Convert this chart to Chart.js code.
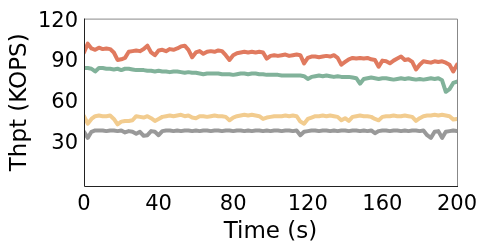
<!DOCTYPE html>
<html>
<head>
<meta charset="utf-8">
<script src="https://cdn.jsdelivr.net/npm/chart.js@4"></script>
<style>
  html, body { margin: 0; padding: 0; background: #fff; }
  #wrap { width: 488px; height: 250px; }
</style>
</head>
<body>
<div id="wrap"><canvas id="thpt"></canvas></div>
<script>
    /* --------------- Data (sampled every 2 s) --------------------- */
    const times = Array.from({ length: 101 }, (_, i) => i * 2);

    const redSeries = [
      97, 103.5, 100, 99, 100.5, 99.5, 100, 99.5, 97, 91.5,
      92, 93, 97.5, 98, 98.5, 98, 99.5, 102, 97, 95,
      98.5, 99, 98, 99.5, 99, 100, 101.5, 102, 99, 93.5,
      97, 98, 96, 97.5, 98, 97.5, 98.5, 98, 95, 91.5,
      95, 96.5, 97, 97.5, 97, 97.5, 97, 97.5, 97, 92.5,
      94.5, 95, 94.5, 95, 95.5, 94.5, 95, 95.5, 95, 89,
      93, 94, 94, 93.5, 94, 94.5, 94, 95, 93, 88,
      90, 92, 93, 92.5, 93, 92.5, 93, 92, 91.5, 86.5,
      91, 90.5, 89, 91, 92.5, 94, 91.5, 92, 90, 84.5,
      88, 90.5, 90, 89.5, 90.5, 90, 90.5, 89.5, 88, 83,
      88
    ];
    const greenSeries = [
      85.5, 85.5, 85, 83, 85.5, 85.5, 85, 85, 84.5, 85,
      84, 85, 85, 84.5, 84, 84, 84, 83.5, 83.5, 83,
      83.5, 83, 83, 82.5, 83, 83, 82.5, 82, 82.5, 82,
      82, 81.5, 81, 81.5, 81.5, 81.5, 81.5, 81, 81, 81,
      80.5, 81, 81.5, 81.5, 81, 81.5, 81.5, 81, 81, 80.5,
      80.5, 80.5, 80.5, 80, 80, 80, 80, 80, 80, 79.5,
      77.5, 79, 79.5, 80, 79.5, 80, 79.5, 79, 79.5, 79,
      79, 79, 78.5, 78, 74, 77.5, 78, 78.5, 78, 77.5,
      78, 78, 77.5, 77, 77.5, 78, 77.5, 78, 77.5, 77,
      77.5, 77, 77.5, 78, 77.5, 78, 76.5, 68, 70, 74.5,
      75.5
    ];
    const yellowSeries = [
      50, 44.5, 48, 50, 50.5, 50, 50, 50.5, 48, 44,
      46, 46.5, 46.5, 47, 50, 49.5, 49, 50, 48.5, 46.5,
      48, 49.5, 50, 50.5, 50, 50.5, 51, 50, 50.5, 49,
      48.5, 50, 50, 49.5, 50, 50.5, 50, 50, 49.5, 47,
      49, 50, 50.5, 51, 50.5, 51, 50.5, 50, 48, 49,
      49.5, 50, 50, 50, 50.5, 50, 50.5, 50, 46, 44.5,
      48, 49, 50, 50, 50.5, 50, 50.5, 50, 49.5, 47,
      48.5, 46.5, 49.5, 50, 50.5, 50, 50, 49.5, 48, 47,
      49.5, 50, 50, 50.5, 50, 50, 50.5, 50, 49.5, 46.5,
      48.5, 50, 50.5, 50.5, 51, 50.5, 51, 50.5, 50, 47.5,
      48
    ];
    const graySeries = [
      38.5, 34, 38.5, 39.5, 39.5, 39.5, 39, 39.5, 39.5, 39,
      39.5, 38, 39, 38.5, 37, 38.5, 35.5, 36, 39, 38.5,
      36, 39, 39.5, 39.5, 39, 39.5, 39, 39.5, 39.5, 39,
      39.5, 39, 39.5, 39.5, 39, 39.5, 39.5, 39, 39.5, 39.5,
      39, 39.5, 39.5, 39, 39.5, 39, 39.5, 39.5, 39, 39.5,
      39, 39.5, 39.5, 39, 39.5, 39.5, 39, 39.5, 36, 38.5,
      39, 39.5, 39.5, 39, 39.5, 39.5, 39, 39.5, 39, 39.5,
      39.5, 39, 39.5, 39.5, 39, 39.5, 39, 39.5, 37.5, 39,
      39.5, 39.5, 39, 39.5, 39.5, 39, 39.5, 39, 39.5, 39.5,
      39, 39.5, 36, 34, 38.5, 39, 34, 38.5, 39, 39.5,
      39
    ];

    const yTicks = [30, 60, 90, 120];
    const xLabelEvery = 40;

    const lineColors = ["#E07A5F", "#81B29A", "#F2CC8F", "#999999"];

    const toPoints = (arr) => arr.map((v, i) => ({ x: times[i], y: v }));

    /* --------------- Frame around the plot --------------------- */
    const framePlugin = {
      id: "frame",
      afterDraw(chart) {
        const { ctx, chartArea: a } = chart;
        ctx.save();
        ctx.lineWidth = 1;
        // top + right are lighter, like the reference
        ctx.strokeStyle = "#888";
        ctx.beginPath();
        ctx.moveTo(a.left, a.top + 0.5);
        ctx.lineTo(a.right + 0.5, a.top + 0.5);
        ctx.lineTo(a.right + 0.5, a.bottom);
        ctx.stroke();
        ctx.strokeStyle = "#222";
        ctx.beginPath();
        ctx.moveTo(a.left + 0.5, a.top);
        ctx.lineTo(a.left + 0.5, a.bottom + 0.5);
        ctx.lineTo(a.right + 1, a.bottom + 0.5);
        ctx.stroke();
        ctx.restore();
      },
    };

    const tickFont = { family: "DejaVu Sans", size: 21 };
    const titleFont = { family: "DejaVu Sans", size: 23 };

    new Chart(document.getElementById("thpt"), {
      type: "line",
      plugins: [framePlugin],
      data: {
        datasets: [
          { data: toPoints(redSeries), borderColor: lineColors[0] },
          { data: toPoints(greenSeries), borderColor: lineColors[1] },
          { data: toPoints(yellowSeries), borderColor: lineColors[2] },
          { data: toPoints(graySeries), borderColor: lineColors[3] },
        ],
      },
      options: {
        responsive: true,
        maintainAspectRatio: false,
        animation: false,
        layout: { padding: { top: 17, right: 31, left: 0, bottom: 0 } },
        elements: {
          point: { radius: 0 },
          line: { borderWidth: 4, tension: 0, borderJoinStyle: "round", borderCapStyle: "round" },
        },
        plugins: { legend: { display: false }, tooltip: { enabled: false } },
        scales: {
          x: {
            type: "linear",
            min: 0,
            max: 200,
            afterFit: (s) => { s.height = 64; },
            grid: { display: false, drawOnChartArea: false, drawTicks: true, tickLength: 4, color: "#333" },
            border: { display: false },
            ticks: {
              stepSize: 20,
              color: "#000",
              font: tickFont,
              padding: 2,
              maxRotation: 0,
              autoSkip: false,
              callback: (v) => (v % xLabelEvery === 0 ? v : ""),
            },
            title: { display: true, text: "Time (s)", color: "#000", font: titleFont, padding: { top: 0, bottom: 4 } },
          },
          y: {
            min: -1.5,
            max: 122,
            afterFit: (s) => { s.width = 84; },
            afterBuildTicks: (s) => { s.ticks = yTicks.map((v) => ({ value: v })); },
            grid: { display: false, drawTicks: false },
            border: { display: false },
            ticks: { color: "#000", font: tickFont, padding: 6 },
            title: { display: true, text: "Thpt (KOPS)", color: "#000", font: titleFont, padding: { top: 6, bottom: 0 } },
          },
        },
      },
    });
</script>
</body>
</html>
